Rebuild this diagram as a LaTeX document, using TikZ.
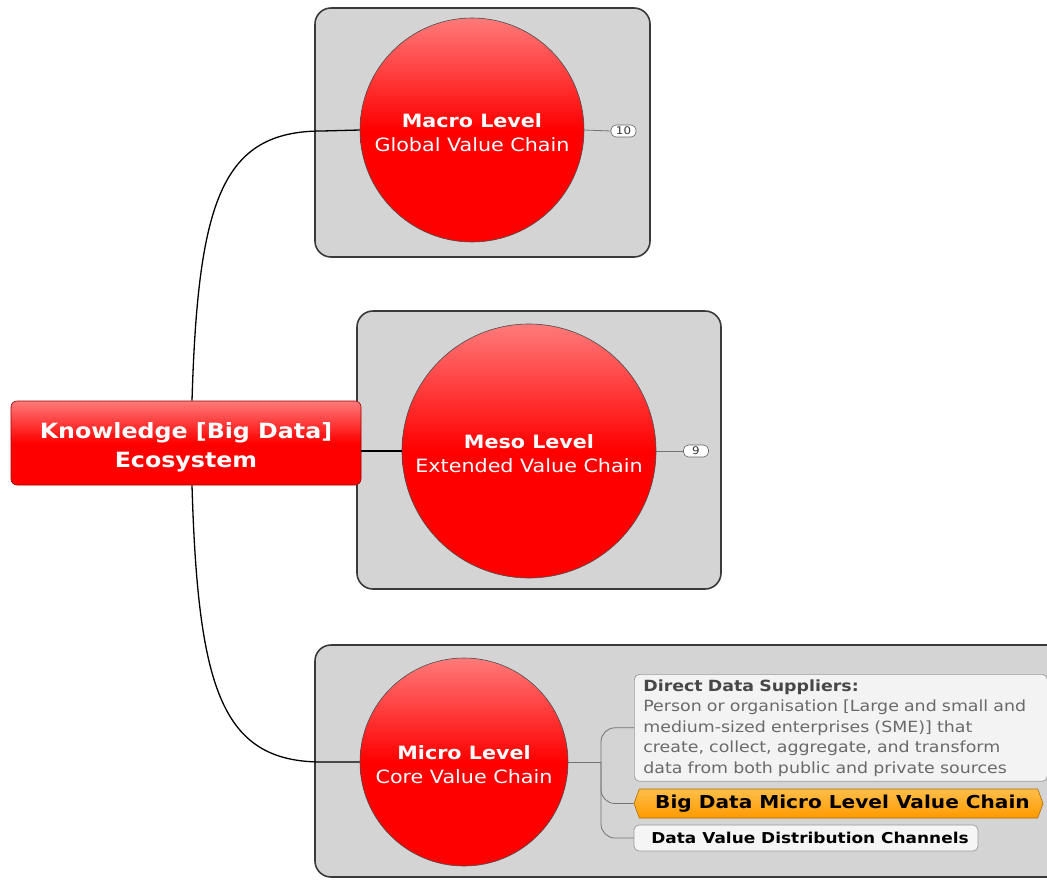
\documentclass[tikz,border=0pt]{standalone}
\usepackage{fontspec}
\setmainfont{DejaVu Sans}[FakeStretch=1.13]
\usetikzlibrary{shapes.symbols}

\definecolor{boxgray}{HTML}{D4D4D4}
\definecolor{boxedge}{HTML}{3A3A3A}
\definecolor{redtop}{HTML}{FF7A7A}
\definecolor{noteedge}{HTML}{9A9A9A}
\definecolor{notefill}{HTML}{F3F3F3}
\definecolor{titlegray}{HTML}{474747}
\definecolor{bodygray}{HTML}{6A6A6A}
\definecolor{orangetop}{HTML}{FFBE4A}
\definecolor{orangebot}{HTML}{FF9A00}

\tikzset{
  container/.style={draw=boxedge, line width=1.6pt, fill=boxgray, rounded corners=16pt, inner sep=0pt},
  levelcircle/.style={circle, draw=black!70, line width=0.6pt, inner sep=0pt,
    top color=redtop, bottom color=red, middle color=red},
  leveltext/.style={text=white, align=center, font=\fontsize{18.3}{23.5}\selectfont},
  rootbox/.style={draw=red!60!black, line width=0.6pt, rounded corners=6pt,
    top color=redtop, bottom color=red, middle color=red,
    minimum width=350pt, minimum height=84pt, inner sep=0pt},
  roottext/.style={text=white, align=center, font=\bfseries\fontsize{21}{29}\selectfont},
  badge/.style={draw=black!60, line width=0.6pt, fill=white, rounded corners=5pt,
    font=\fontsize{10.5}{11}\selectfont, text=black!80, minimum width=25pt,
    minimum height=12pt, inner sep=0pt},
  trunk/.style={draw=black, line width=1.3pt},
  twig/.style={draw=black!55, line width=0.8pt},
  note/.style={draw=noteedge, line width=0.7pt, fill=notefill, rounded corners=5pt},
}

\begin{document}
\begin{tikzpicture}[x=1pt,y=-1pt]
\useasboundingbox (0,0) rectangle (1047,879);
\clip (0,0) rectangle (1047,879);

% level containers
\node[container, minimum width=335pt, minimum height=249pt] (macrobox) at (482.5,132.5) {};
\node[container, minimum width=364pt, minimum height=278pt] (mesobox) at (539,450) {};
\node[container, minimum width=760pt, minimum height=232pt] (microbox) at (695,761) {};

% level circles
\node[levelcircle, minimum size=224pt] (macro) at (472,130) {};
\node[levelcircle, minimum size=254pt] (meso) at (529,451) {};
\node[levelcircle, minimum size=208pt] (micro) at (464,762) {};
\node[leveltext] (macrotxt) at ([yshift=-2.5pt]macro.center) {\textbf{Macro Level}\\Global Value Chain};
\node[leveltext] (mesotxt) at ([yshift=-2.5pt]meso.center) {\textbf{Meso Level}\\Extended Value Chain};
\node[leveltext] (microtxt) at ([yshift=-2.5pt]micro.center) {\textbf{Micro Level}\\Core Value Chain};

% root topic
\node[rootbox] (root) at (186,443) {};
\node[roottext] (roottxt) at ([yshift=-4pt]root.center) {Knowledge [Big Data]\\Ecosystem};

% collapsed-branch counters
\node[badge] (b10) at (623.5,131) {10};
\node[badge] (b9) at (696,451) {9};
\draw[twig] (macro.east) -- (b10.west);
\draw[twig] (meso.east) -- (b9.west);

% main branches
\draw[trunk] ([xshift=6pt]root.north) .. controls (198,200) and (222,131) .. (322,131) -- (macro.west);
\draw[trunk] (root.east |- meso.west) -- (meso.west);
\draw[trunk] ([xshift=6pt]root.south) .. controls (198,690) and (222,762) .. (322,762) -- (micro.west);

% micro level sub-topics
\node[note, anchor=north west, minimum width=411pt, text width=395pt, inner xsep=9pt,
      inner ysep=5pt, align=left, font=\fontsize{15.4}{20.5}\selectfont] (dds) at (634,674)
  {{\color{titlegray}\bfseries Direct Data Suppliers:}\\
   \color{bodygray}Person or organisation [Large and small and\\
   medium-sized enterprises (SME)] that\\
   create, collect, aggregate, and transform\\
   data from both public and private sources};
\node[signal, signal to=east and west, signal pointer angle=140, draw=orangebot!70!black,
      line width=0.6pt, top color=orangetop, bottom color=orangebot, minimum width=409pt,
      minimum height=29pt, inner sep=0pt, font=\bfseries\fontsize{17.8}{20}\selectfont]
  (bigd) at (838.5,803.5) {\hspace*{8pt}Big Data Micro Level Value Chain};
\node[note, fill=white!96!black, minimum width=344pt, minimum height=26pt, inner sep=0pt,
      font=\bfseries\fontsize{15}{17}\selectfont] (dvdc) at (806,838)
  {\hspace*{8pt}Data Value Distribution Channels};

\coordinate (fork) at (601,762);
\draw[twig] (micro.east) -- (fork);
\draw[twig, rounded corners=14pt] (fork) |- (dds.west);
\draw[twig, rounded corners=14pt] (fork) |- (bigd.west);
\draw[twig, rounded corners=14pt] (fork) |- (dvdc.west);
\end{tikzpicture}
\end{document}
